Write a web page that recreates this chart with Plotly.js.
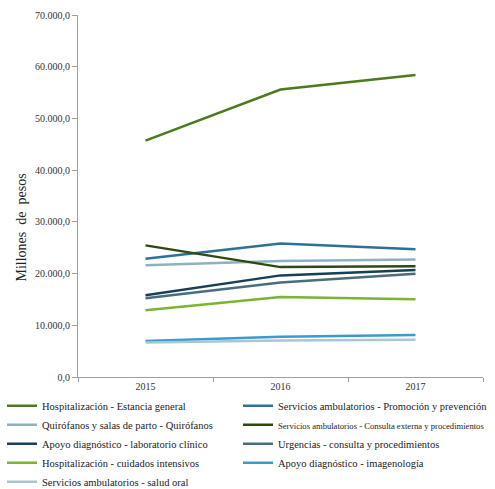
<!DOCTYPE html>
<html>
<head>
<meta charset="utf-8">
<script src="https://cdn.plot.ly/plotly-3.0.1.min.js"></script>
<style>html,body{margin:0;padding:0;background:#fff;}#chart{width:495px;height:489px;}</style>
</head>
<body>
<div id="chart"></div>
<script>
const years = ['2015', '2016', '2017'];
const seriesNames = [
  'Hospitalización - Estancia general',
  'Servicios ambulatorios - Promoción y prevención',
  'Quirófanos y salas de parto - Quirófanos',
  '<span style="font-size:8.6px">Servicios ambulatorios - Consulta externa y procedimientos</span>',
  'Apoyo diagnóstico - laboratorio clínico',
  'Urgencias - consulta y procedimientos',
  'Hospitalización - cuidados intensivos',
  'Apoyo diagnóstico - imagenología',
  'Servicios ambulatorios - salud oral'
];
const hospEstancia = [45700, 55600, 58400];
const promocion = [22850, 25800, 24700];
const quirofanos = [21600, 22450, 22700];
const consultaExterna = [25450, 21250, 21400];
const laboratorio = [15800, 19650, 20700];
const urgencias = [15250, 18250, 19950];
const cuidadosIntensivos = [12900, 15450, 15050];
const imagenologia = [6950, 7800, 8100];
const saludOral = [6650, 7050, 7200];
const seriesValues = [hospEstancia, promocion, quirofanos, consultaExterna, laboratorio, urgencias, cuidadosIntensivos, imagenologia, saludOral];
const colors = ['#4c7a1d', '#2b7198', '#8eb1bd', '#2f4913', '#173f57', '#4a6d7c', '#7bb42f', '#3a9bd0', '#a9c6d2'];
const yTitle = 'Millones\u00a0\u00a0de\u00a0\u00a0pesos';

const traces = seriesValues.map((v, i) => ({
  type: 'scatter', mode: 'lines', x: years, y: v, name: seriesNames[i],
  legend: (i % 2 === 0) ? 'legend' : 'legend2',
  line: {color: colors[i], width: 2.5}, hoverinfo: 'skip'
}));

const serif = 'Liberation Serif, Times New Roman, serif';
const legendBase = {
  orientation: 'v', xref: 'container', yref: 'container',
  xanchor: 'left', yanchor: 'top', y: 0.2,
  font: {family: serif, size: 10.5, color: '#222'},
  itemwidth: 30, traceorder: 'normal', bgcolor: 'rgba(0,0,0,0)', borderwidth: 0
};

const layout = {
  width: 495, height: 489,
  margin: {l: 78, r: 12, t: 15, b: 112, autoexpand: false},
  paper_bgcolor: '#fff', plot_bgcolor: '#fff',
  separators: ',.',
  font: {family: serif, size: 10, color: '#333'},
  showlegend: true,
  legend: Object.assign({}, legendBase, {x: 2 / 495}),
  legend2: Object.assign({}, legendBase, {x: 238 / 495}),
  xaxis: {
    type: 'category', range: [-0.5, 2.5], tickson: 'boundaries',
    showline: true, linecolor: '#a0a0a0', linewidth: 1,
    ticks: 'outside', ticklen: 4, tickcolor: '#a0a0a0',
    showgrid: false, zeroline: false,
    tickfont: {family: serif, size: 10, color: '#333'}
  },
  yaxis: {
    range: [0, 70000], dtick: 10000, tickformat: ',.1f',
    showline: true, linecolor: '#a0a0a0', linewidth: 1,
    ticks: 'outside', ticklen: 5, tickcolor: '#a0a0a0',
    showgrid: false, zeroline: false,
    tickfont: {family: serif, size: 10, color: '#333'}
  },
  annotations: [{
    text: yTitle, xref: 'paper', yref: 'paper',
    x: (21 - 78) / 405, y: (377 - 227.5) / 362,
    xanchor: 'center', yanchor: 'middle', textangle: -90, showarrow: false,
    font: {family: serif, size: 14, color: '#222'}
  }]
};

Plotly.newPlot('chart', traces, layout, {displayModeBar: false, staticPlot: true});
</script>
</body>
</html>
